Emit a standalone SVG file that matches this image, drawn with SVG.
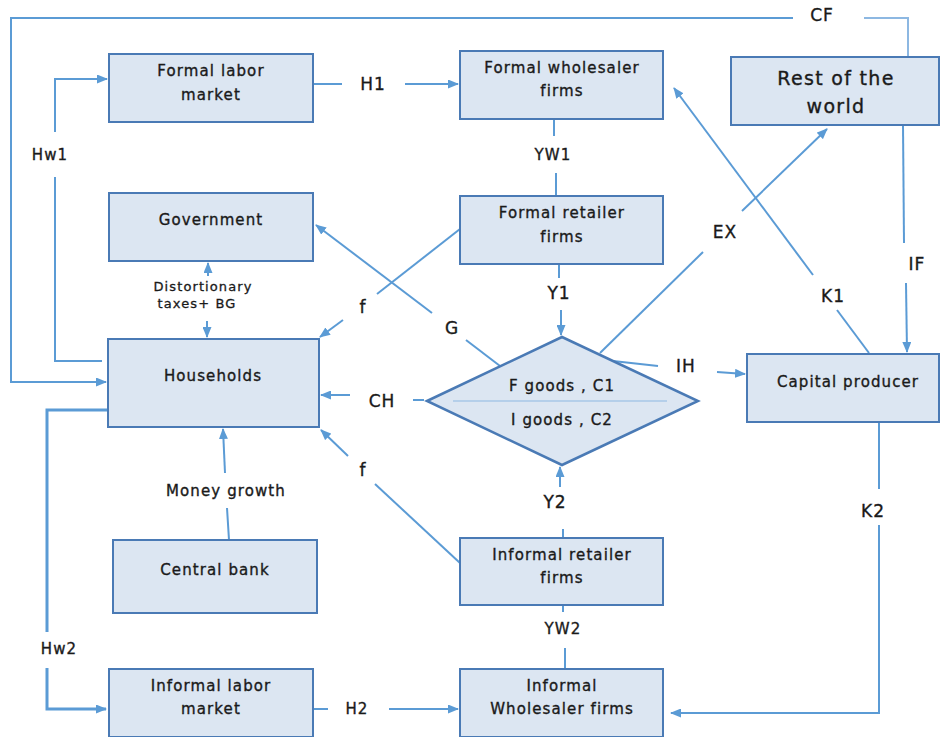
<svg xmlns="http://www.w3.org/2000/svg" width="941" height="737" viewBox="0 0 941 737">
<defs>
<marker id="ah" markerUnits="userSpaceOnUse" markerWidth="11" markerHeight="9" refX="10" refY="4.5" orient="auto">
<path d="M0,0 L11,4.5 L0,9 Z" fill="#5B9BD5"/>
</marker>
<style>
.box{fill:#DCE6F2;stroke:#4A7AB5;stroke-width:2}
.c{fill:none;stroke:#5B9BD5;stroke-width:2}
.t{font-family:"DejaVu Sans",sans-serif;font-size:15px;letter-spacing:1.1px;fill:#1a1a1a;stroke:#1a1a1a;stroke-width:0.35px;text-anchor:middle}
.big{font-size:19px;letter-spacing:1.3px}
.lb{font-family:"DejaVu Sans",sans-serif;font-size:17px;letter-spacing:1px;fill:#1a1a1a;stroke:#1a1a1a;stroke-width:0.35px;text-anchor:middle}
.sm{font-family:"DejaVu Sans",sans-serif;font-size:13px;letter-spacing:1.1px;fill:#1a1a1a;stroke:#1a1a1a;stroke-width:0.3px;text-anchor:middle}
</style>
</defs>
<rect width="941" height="737" fill="#ffffff"/>
<g id="connectors">
<path class="c" d="M908,57 V18 H864" style="stroke:#8DB8E2"/>
<path class="c" d="M793,18 H11 V382 H106" marker-end="url(#ah)"/>
<text class="lb" x="822" y="21">CF</text>
<path class="c" d="M102,361 H55 V177"/>
<path class="c" d="M55,132 V79 H107" marker-end="url(#ah)"/>
<text class="t" x="50" y="160">Hw1</text>
<path class="c" d="M313,84 H342"/>
<path class="c" d="M405,84 H458" marker-end="url(#ah)"/>
<text class="lb" x="373" y="90">H1</text>
<path class="c" d="M554,119 V136"/>
<path class="c" d="M556,173 V196"/>
<text class="t" x="553" y="160">YW1</text>
<path class="c" d="M559,264 V278"/>
<path class="c" d="M561,310 V335" marker-end="url(#ah)"/>
<text class="lb" x="559" y="299">Y1</text>
<path class="c" d="M208,276 V263" marker-end="url(#ah)"/>
<path class="c" d="M207,321 V337" marker-end="url(#ah)"/>
<text class="sm" x="203" y="291">Distortionary</text>
<text class="sm" x="197" y="308">taxes+ BG</text>
<path class="c" d="M460,229 L377,294"/>
<path class="c" d="M343,320 L320,337" marker-end="url(#ah)"/>
<text class="lb" x="363" y="313">f</text>
<path class="c" d="M500,366 L466,340"/>
<path class="c" d="M432,313 L316,225" marker-end="url(#ah)"/>
<text class="lb" x="452" y="334">G</text>
<path class="c" d="M424,400 H413"/>
<path class="c" d="M350,395 H321" marker-end="url(#ah)"/>
<text class="lb" x="382" y="407">CH</text>
<path class="c" d="M460,563 L375,484"/>
<path class="c" d="M348,456 L321,430" marker-end="url(#ah)"/>
<text class="lb" x="363" y="476">f</text>
<path class="c" d="M229,540 L227,508"/>
<path class="c" d="M225,473 L223,429" marker-end="url(#ah)"/>
<text class="t" x="226" y="496">Money growth</text>
<path class="c" d="M108,410 H47 V632" style="stroke-width:3"/>
<path class="c" d="M47,668 V709 H106" style="stroke-width:3" marker-end="url(#ah)"/>
<text class="t" x="59" y="654">Hw2</text>
<path class="c" d="M313,709 H328"/>
<path class="c" d="M389,709 H458" marker-end="url(#ah)"/>
<text class="t" x="357" y="714">H2</text>
<path class="c" d="M563,538 V529"/>
<path class="c" d="M560,487 V467" marker-end="url(#ah)"/>
<text class="lb" x="555" y="508">Y2</text>
<path class="c" d="M563,605 V612"/>
<path class="c" d="M565,648 V669"/>
<text class="t" x="563" y="634">YW2</text>
<path class="c" d="M879,422 V489"/>
<path class="c" d="M879,525 V713 H671" marker-end="url(#ah)"/>
<text class="lb" x="873" y="517">K2</text>
<path class="c" d="M613,361 L658,366"/>
<path class="c" d="M717,372 L745,374" marker-end="url(#ah)"/>
<text class="lb" x="686" y="372">IH</text>
<path class="c" d="M600,353 L703,252"/>
<path class="c" d="M742,211 L827,129" marker-end="url(#ah)"/>
<text class="lb" x="725" y="238">EX</text>
<path class="c" d="M869,353 L837,310"/>
<path class="c" d="M813,275 L674,88" marker-end="url(#ah)"/>
<text class="lb" x="833" y="302">K1</text>
<path class="c" d="M903,125 L904,243"/>
<path class="c" d="M906,283 L907,352" marker-end="url(#ah)"/>
<text class="lb" x="917" y="270">IF</text>
</g>
<g id="formal-labor-market">
<rect class="box" x="109" y="54" width="204" height="68"/>
<text class="t" x="211" y="76">Formal labor</text>
<text class="t" x="211" y="100">market</text>
</g>
<g id="formal-wholesaler">
<rect class="box" x="460" y="51" width="203" height="68"/>
<text class="t" x="562" y="73">Formal wholesaler</text>
<text class="t" x="562" y="96">firms</text>
</g>
<g id="rest-of-world">
<rect class="box" x="731" y="57" width="208" height="68"/>
<text class="t big" x="836" y="85">Rest of the</text>
<text class="t big" x="836" y="113">world</text>
</g>
<g id="government">
<rect class="box" x="109" y="193" width="204" height="68"/>
<text class="t" x="211" y="225">Government</text>
</g>
<g id="formal-retailer">
<rect class="box" x="460" y="196" width="203" height="68"/>
<text class="t" x="562" y="218">Formal retailer</text>
<text class="t" x="562" y="242">firms</text>
</g>
<g id="households">
<rect class="box" x="108" y="339" width="211" height="88"/>
<text class="t" x="213" y="381">Households</text>
</g>
<g id="goods-market">
<polygon class="box" points="427,401 562,337 698,401 562,465" style="stroke-width:2.5"/>
<line x1="453" y1="401" x2="667" y2="401" stroke="#8DB8E2" stroke-width="1"/>
<text class="t" x="562" y="391">F goods , C1</text>
<text class="t" x="562" y="425">I goods , C2</text>
</g>
<g id="capital-producer">
<rect class="box" x="747" y="354" width="192" height="68"/>
<text class="t" x="848" y="387">Capital producer</text>
</g>
<g id="central-bank">
<rect class="box" x="113" y="540" width="204" height="73"/>
<text class="t" x="215" y="575">Central bank</text>
</g>
<g id="informal-retailer">
<rect class="box" x="460" y="538" width="203" height="67"/>
<text class="t" x="562" y="560">Informal retailer</text>
<text class="t" x="562" y="583">firms</text>
</g>
<g id="informal-labor-market">
<rect class="box" x="109" y="669" width="204" height="68"/>
<text class="t" x="211" y="691">Informal labor</text>
<text class="t" x="211" y="714">market</text>
</g>
<g id="informal-wholesaler">
<rect class="box" x="460" y="669" width="203" height="68"/>
<text class="t" x="562" y="691">Informal</text>
<text class="t" x="562" y="714">Wholesaler firms</text>
</g>
</svg>
